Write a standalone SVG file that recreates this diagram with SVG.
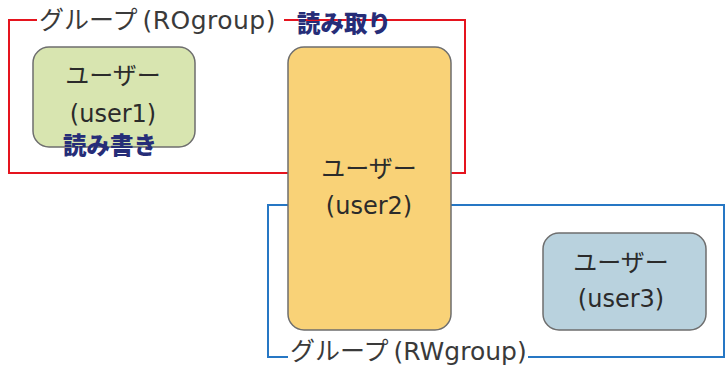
<svg xmlns="http://www.w3.org/2000/svg" width="726" height="371" viewBox="0 0 726 371">
  <style>
    .frame { fill: none; stroke-width: 2; }
    .ro { stroke: #e5141e; }
    .rw { stroke: #2677c4; }
    .box { stroke: #6e6e6e; stroke-width: 1.5; }
    .lbl { font-family: "DejaVu Sans", "Noto Sans CJK JP", sans-serif; font-size: 24px; fill: #2b2b2b; text-anchor: middle; }
    .grp { font-family: "DejaVu Sans", "Noto Sans CJK JP", sans-serif; font-size: 25px; fill: #3a3a3a; word-spacing: -3px; }
    .perm { font-family: "Noto Sans CJK JP", sans-serif; font-size: 23.5px; font-weight: 900; fill: #262d78; text-anchor: middle; }
  </style>
  <rect width="726" height="371" fill="#ffffff"/>

  <!-- group frames -->
  <g id="connectors">
    <path class="frame ro" d="M37 20 H9 V173 H290"/>
    <path class="frame ro" d="M284 20 H465 V173 H450"/>
    <path class="frame rw" d="M288 357 H268 V205 H290"/>
    <path class="frame rw" d="M450 205 H724 V357 H528"/>
  </g>

  <g id="ROgroup">
    <text class="grp" x="39" y="29">グループ <tspan textLength="133">(ROgroup)</tspan></text>
    <text class="perm" x="344" y="32">読み取り</text>
  </g>

  <g id="RWgroup">
    <text class="grp" x="290" y="360">グループ (RWgroup)</text>
  </g>

  <g id="user1">
    <rect class="box" x="33" y="47" width="162" height="100" rx="16" fill="#d8e5b0"/>
    <text class="lbl" x="113" y="84">ユーザー</text>
    <text class="lbl" x="113" y="122">(user1)</text>
    <text class="perm" x="110" y="154">読み書き</text>
  </g>

  <g id="user2">
    <rect class="box" x="288" y="47" width="163" height="283" rx="16" fill="#f9d277"/>
    <text class="lbl" x="369" y="177">ユーザー</text>
    <text class="lbl" x="369" y="214">(user2)</text>
  </g>

  <g id="user3">
    <rect class="box" x="543" y="233" width="163" height="97" rx="16" fill="#b9d2de"/>
    <text class="lbl" x="621" y="271">ユーザー</text>
    <text class="lbl" x="621" y="307">(user3)</text>
  </g>
</svg>
